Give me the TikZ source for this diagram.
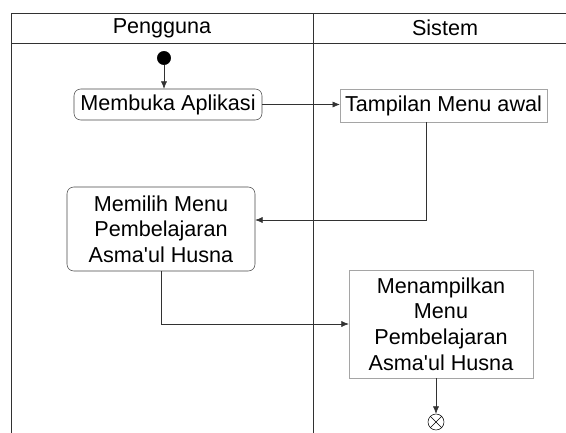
\documentclass[tikz,border=0pt]{standalone}
\usepackage{fontspec}
\setmainfont{Liberation Sans}[Ligatures=TeXOff]
\usepackage{tikz}
\usetikzlibrary{shapes,arrows.meta,positioning,calc}
\usepackage{xcolor}
\definecolor{lanegray}{RGB}{50,50,50}
\definecolor{boxgray}{RGB}{70,70,70}
\definecolor{boxlight}{RGB}{165,165,165}
\tikzset{
    activity/.style={rectangle, rounded corners=5pt, draw=boxgray, align=center, inner sep=0pt, font=\fontsize{16.2}{19.2}\selectfont},
    activityS/.style={rectangle, draw=boxlight, align=center, inner sep=0pt, font=\fontsize{16.2}{19.2}\selectfont},
    startnode/.style={circle, fill=black, draw=black, minimum size=10pt, inner sep=0pt},
    endnode/.style={circle, draw=black, fill=white, minimum size=12pt, inner sep=0pt},
    flow/.style={draw=lanegray, -{Latex[length=5.5pt,width=4.5pt]}},
    lane/.style={draw=lanegray},
    lanelabel/.style={font=\fontsize{16.2}{19.2}\selectfont},
}
\begin{document}
\begin{tikzpicture}[x=0.75pt, y=-0.75pt]
    \useasboundingbox (0,0) rectangle (566,432);
    \begin{scope}
    \clip (0,0) rectangle (566,432);
    % Swimlanes
    \draw[lane] (11,460) -- (11,13) -- (600,13);
    \draw[lane] (11,43) -- (600,43);
    \draw[lane] (313,13) -- (313,460);
    \end{scope}
    \node[lanelabel] (laneUser) at (162,28) {Pengguna};
    \node[lanelabel] (laneSys) at (445,28) {Sistem};

    % Pengguna
    \node[startnode] (start) at (164,58) {};
    \node[activity, minimum width=141pt, minimum height=23.25pt] (buka) at (168,104.5) {Membuka Aplikasi};
    \node[activity, minimum width=141pt, minimum height=63pt] (pilih) at (161,229) {Memilih Menu\\Pembelajaran\\Asma'ul Husna};

    % Sistem
    \node[activityS, minimum width=155pt, minimum height=24.75pt] (awal) at (443.5,105.5) {Tampilan Menu awal};
    \node[activityS, minimum width=138pt, minimum height=81pt] (tampil) at (441,324) {Menampilkan\\Menu\\Pembelajaran\\Asma'ul Husna};
    \node[endnode] (end) at (436,422) {};
    \draw[black] (end.north east) -- (end.south west);
    \draw[black] (end.north west) -- (end.south east);

    % Alur
    \coordinate (turnA) at (426,220);
    \draw[flow] (start) -- (start |- buka.north);
    \draw[flow] (buka.east) -- (buka.east -| awal.west);
    \draw[flow] (turnA |- awal.south) -- (turnA) -- (turnA -| pilih.east);
    \draw[flow] (pilih.south) |- (tampil.west);
    \draw[flow] (end |- tampil.south) -- (end.north);
\end{tikzpicture}
\end{document}
